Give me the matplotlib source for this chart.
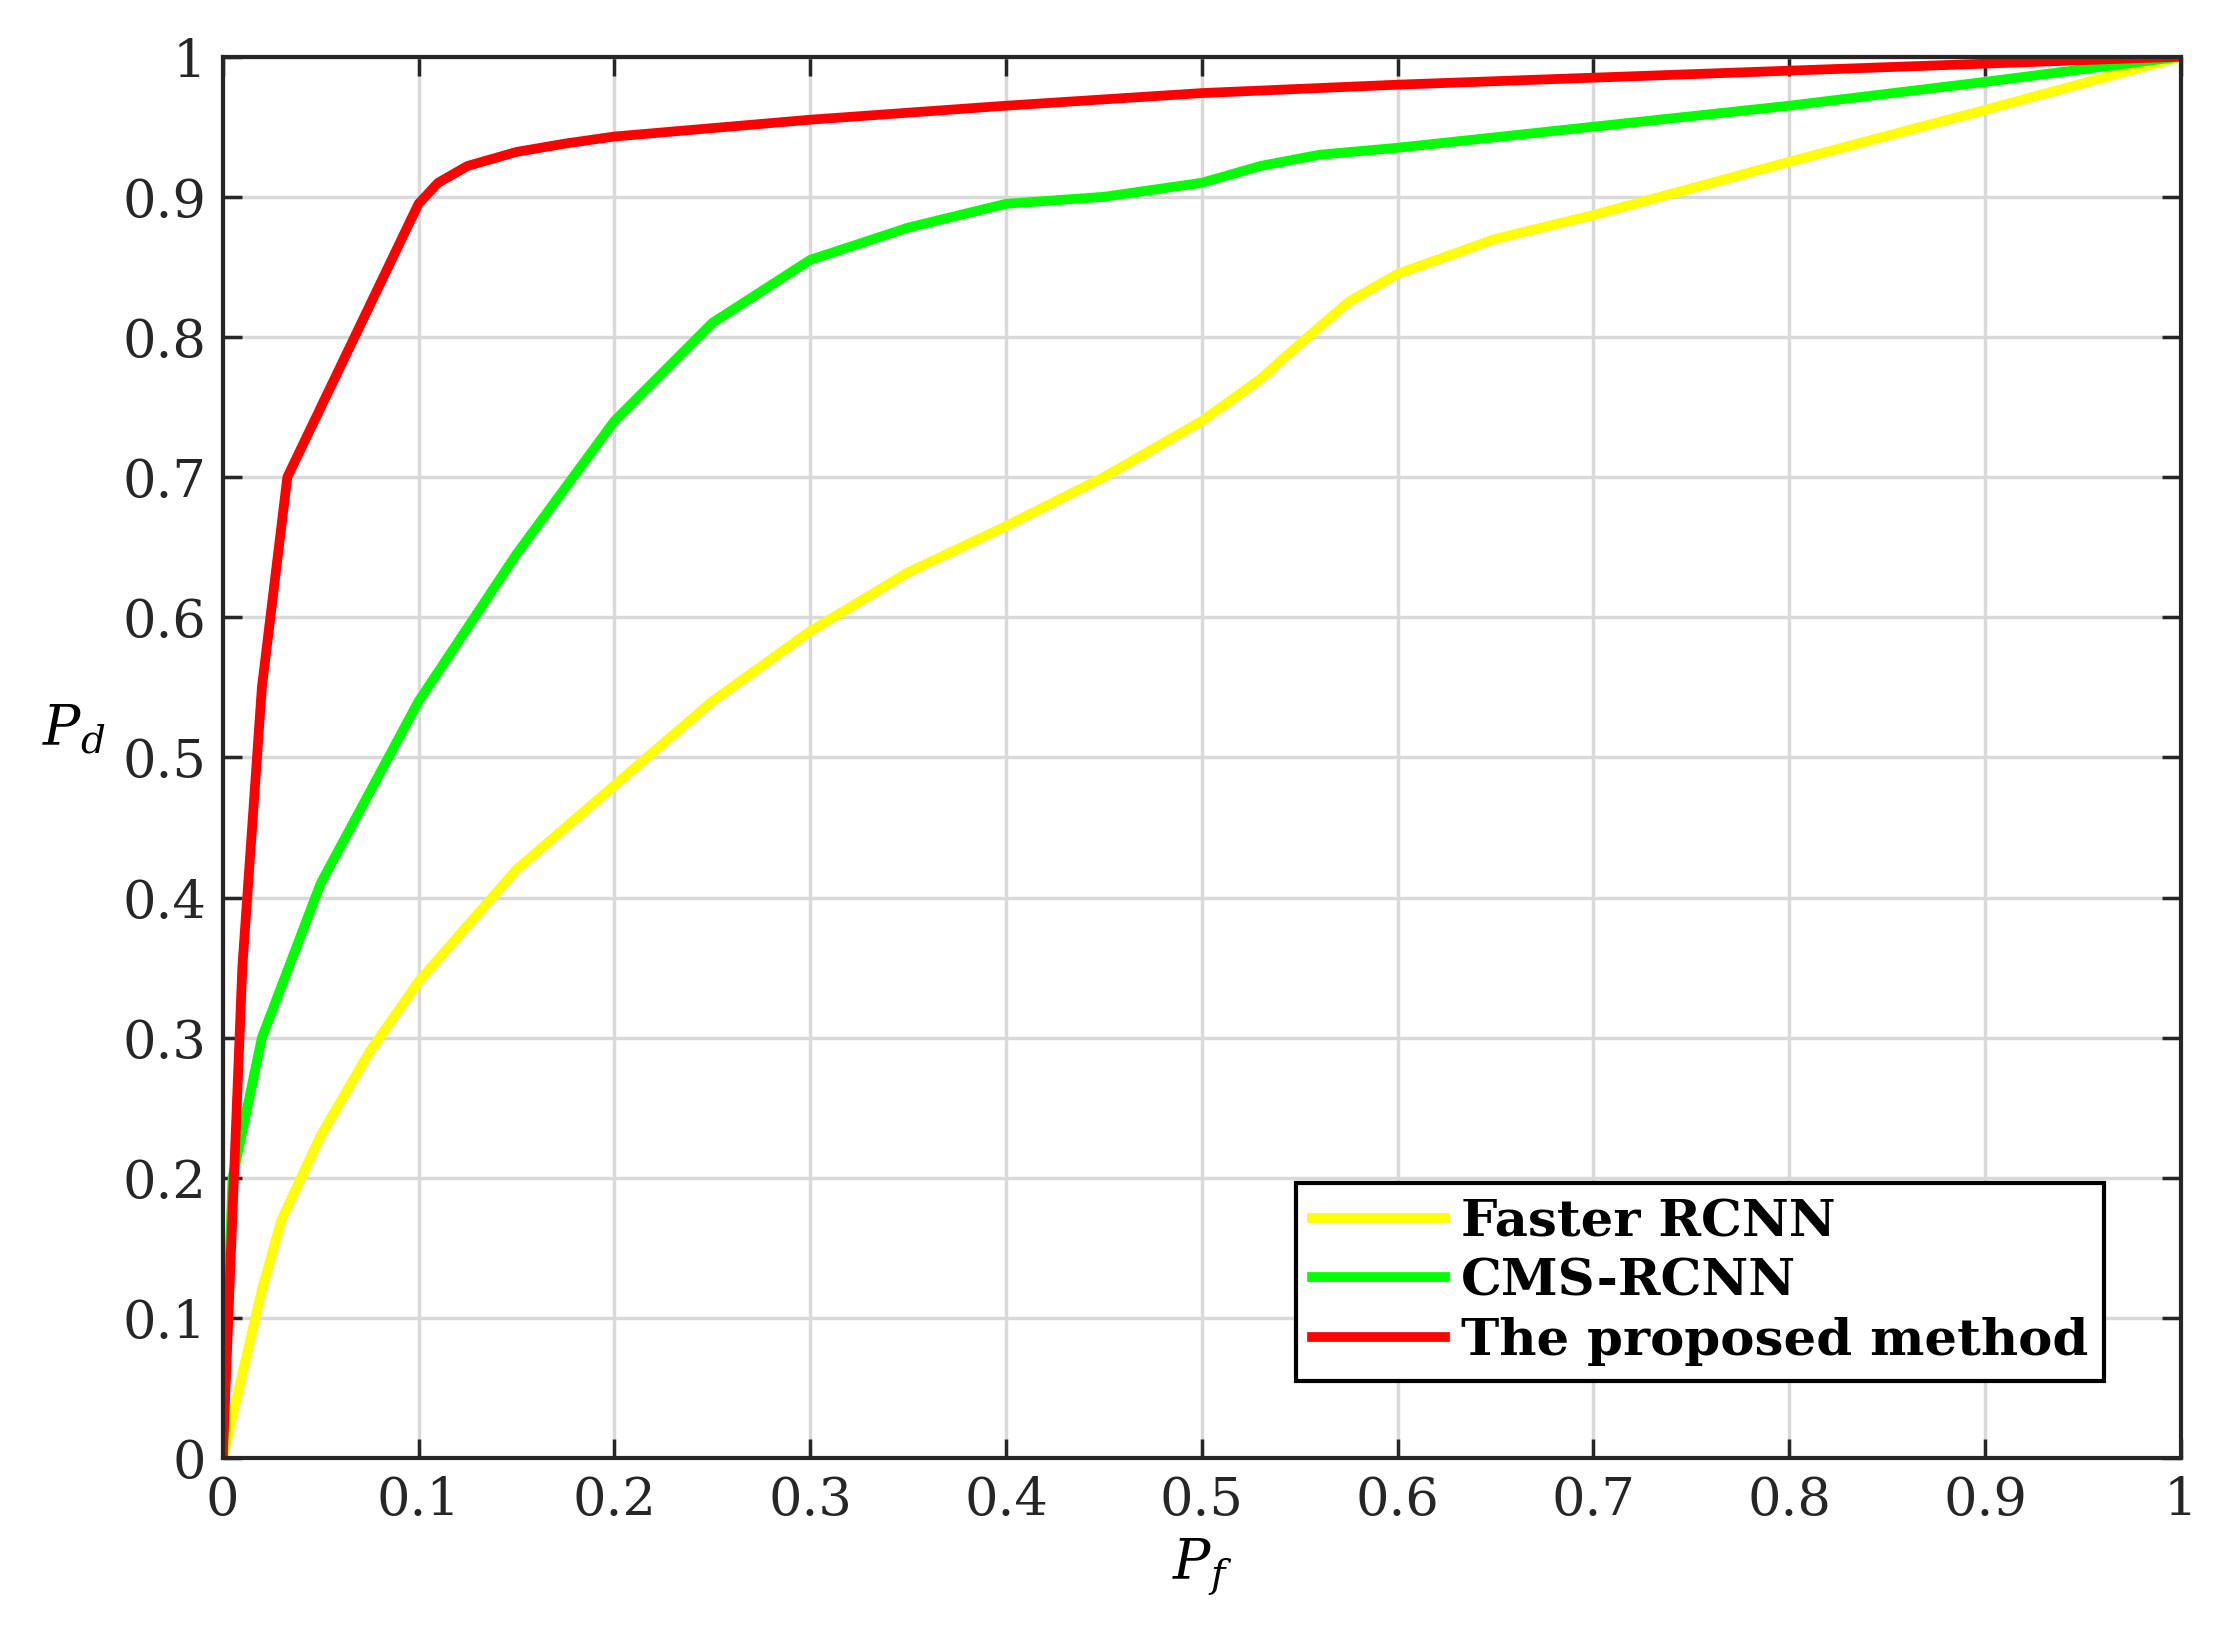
import matplotlib
matplotlib.use("Agg")
import matplotlib.pyplot as plt

plt.rcParams['font.family'] = ['DejaVu Serif']
plt.rcParams['mathtext.fontset'] = 'dejavuserif'

fx = [0, 0.02, 0.03, 0.05, 0.075, 0.1, 0.15, 0.2, 0.25, 0.3, 0.35, 0.4, 0.45, 0.5, 0.53, 0.55, 0.575, 0.6, 0.65, 0.7, 0.8, 0.9, 1]
fy = [0, 0.12, 0.17, 0.23, 0.29, 0.34, 0.42, 0.48, 0.54, 0.59, 0.632, 0.665, 0.70, 0.74, 0.77, 0.795, 0.825, 0.845, 0.87, 0.887, 0.925, 0.962, 1]
cx = [0, 0.005, 0.02, 0.05, 0.1, 0.15, 0.2, 0.25, 0.3, 0.35, 0.4, 0.45, 0.5, 0.53, 0.56, 0.6, 0.7, 0.8, 0.9, 1]
cy = [0, 0.2, 0.3, 0.41, 0.54, 0.645, 0.74, 0.81, 0.855, 0.878, 0.895, 0.9, 0.91, 0.922, 0.93, 0.935, 0.95, 0.965, 0.982, 1]
px = [0, 0.01, 0.02, 0.033, 0.1, 0.11, 0.125, 0.15, 0.175, 0.2, 0.3, 0.4, 0.5, 0.6, 0.8, 1]
py = [0, 0.35, 0.55, 0.70, 0.895, 0.91, 0.922, 0.932, 0.938, 0.943, 0.955, 0.965, 0.974, 0.98, 0.99, 1]
labels = ['Faster RCNN', 'CMS-RCNN', 'The proposed method']
ticks = [0, 0.1, 0.2, 0.3, 0.4, 0.5, 0.6, 0.7, 0.8, 0.9, 1]
ticklabels = ['0', '0.1', '0.2', '0.3', '0.4', '0.5', '0.6', '0.7', '0.8', '0.9', '1']

fig = plt.figure(figsize=(22.14, 16.42), dpi=100)
ax = fig.add_axes([0.1006, 0.112, 0.8844, 0.8535])
ax.plot(fx, fy, color='#ffff00', lw=7, label=labels[0], solid_joinstyle='round')
ax.plot(cx, cy, color='#00ff00', lw=7, label=labels[1], solid_joinstyle='round')
ax.plot(px, py, color='#ff0000', lw=7, label=labels[2], solid_joinstyle='round')
ax.set_xlim(0, 1); ax.set_ylim(0, 1)
ax.set_xticks(ticks); ax.set_xticklabels(ticklabels)
ax.set_yticks(ticks); ax.set_yticklabels(ticklabels)
ax.tick_params(direction='in', top=True, right=True, labelsize=38, length=14, width=2.5,
               colors='#262626', pad=12)
ax.grid(True, color='#d9d9d9', lw=2.5)
for s in ax.spines.values():
    s.set_linewidth(3); s.set_color('#262626')
ax.set_xlabel('$P_f$', fontsize=40, labelpad=8)
ax.set_ylabel('$P_d$', fontsize=40, rotation=0, labelpad=35)
leg = ax.legend(loc='lower right', prop={'weight': 'bold', 'size': 37}, fancybox=False,
                edgecolor='black', framealpha=1, handlelength=2.6, borderaxespad=1.5,
                borderpad=0.3, labelspacing=0.2, handletextpad=0.3)
leg.get_frame().set_linewidth(3)
fig.savefig('out.png', dpi=100)
